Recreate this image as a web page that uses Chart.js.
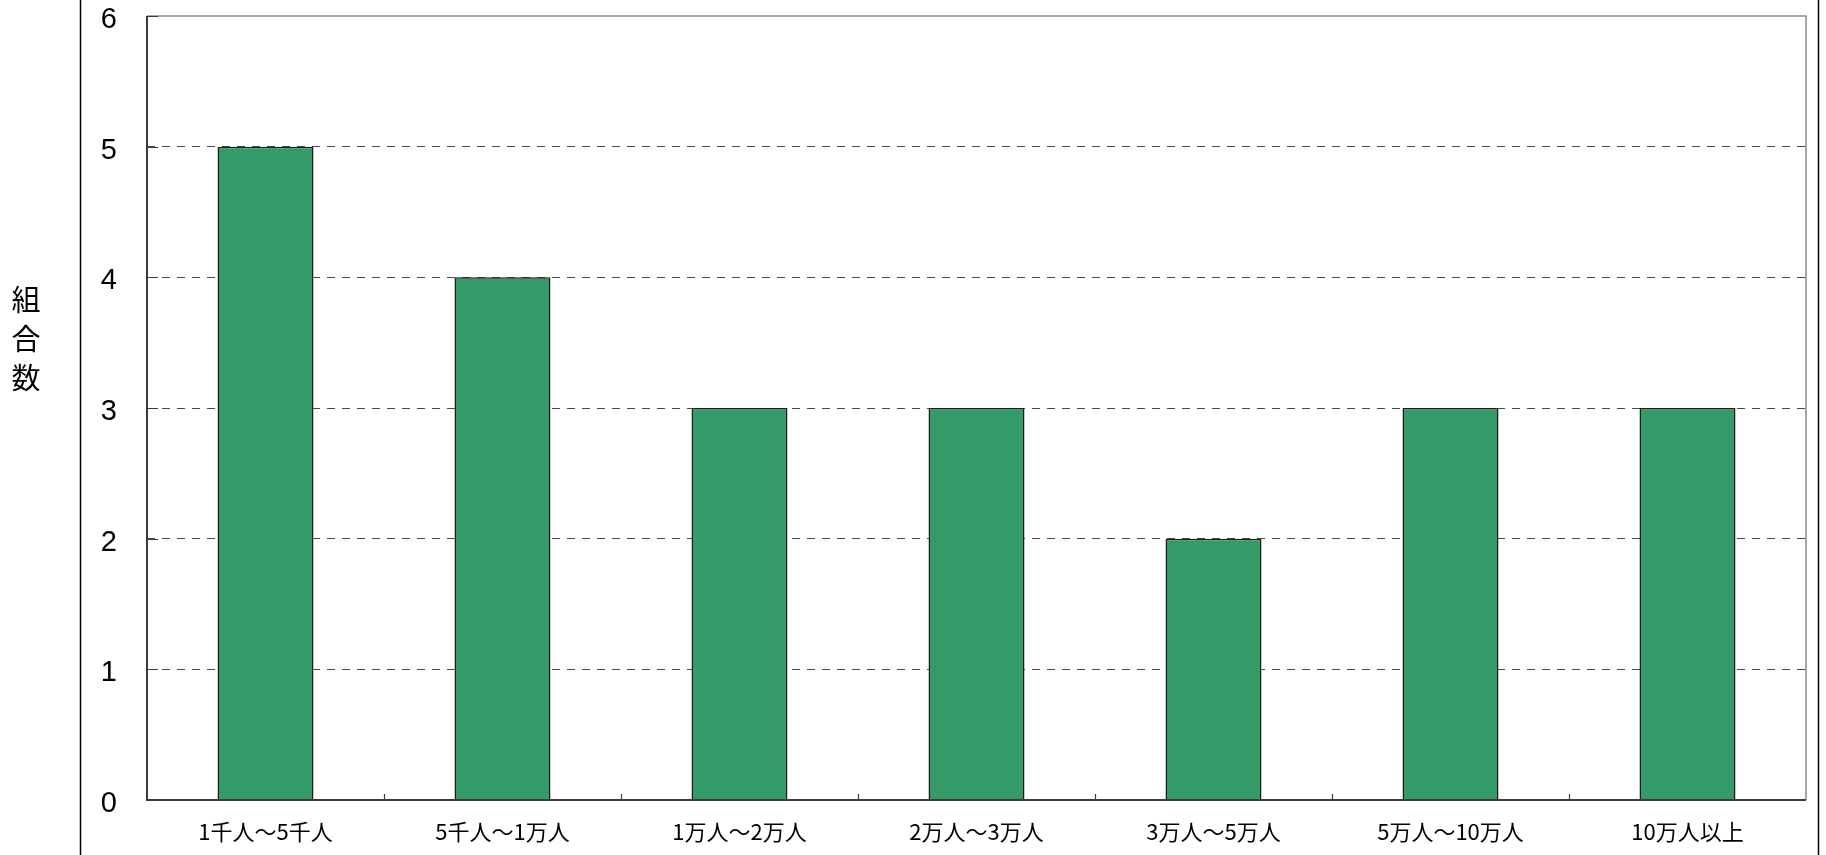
<!DOCTYPE html>
<html>
<head>
<meta charset="utf-8">
<script src="https://cdn.jsdelivr.net/npm/chart.js"></script>
<style>
html, body { margin: 0; padding: 0; background: #fff; }
#wrap { position: relative; width: 1826px; height: 855px; }
</style>
</head>
<body>
<div id="wrap"><canvas id="myChart" width="1826" height="855"></canvas></div>
<script>
// 規模別の組合数
var categories = ['1千人～5千人', '5千人～1万人', '1万人～2万人', '2万人～3万人', '3万人～5万人', '5万人～10万人', '10万人以上'];
var counts = [5, 4, 3, 3, 2, 3, 3];
var yMin = 0;
var yMax = 6;
var yTitle = ['組', '合', '数'];

var frame = {
  id: 'frame',
  beforeDraw: function(chart) {
    var ctx = chart.ctx;
    ctx.save();
    ctx.fillStyle = '#fff';
    ctx.fillRect(0, 0, chart.width, chart.height);
    // outer box sides
    ctx.strokeStyle = '#000';
    ctx.lineWidth = 1.5;
    ctx.beginPath();
    ctx.moveTo(80.5, 0); ctx.lineTo(80.5, chart.height);
    ctx.moveTo(1818.5, 0); ctx.lineTo(1818.5, chart.height);
    ctx.stroke();
    ctx.restore();
  },
  afterDatasetsDraw: function(chart) {
    var a = chart.chartArea, ctx = chart.ctx;
    var xs = chart.scales.x, ys = chart.scales.y;
    ctx.save();
    // plot frame top / right
    ctx.strokeStyle = '#8a8a8a';
    ctx.lineWidth = 1.5;
    ctx.beginPath();
    ctx.moveTo(a.left, a.top); ctx.lineTo(a.right, a.top); ctx.lineTo(a.right, a.bottom);
    ctx.stroke();
    // axes
    ctx.strokeStyle = '#3c3c3c';
    ctx.lineWidth = 2;
    ctx.beginPath();
    ctx.moveTo(a.left, a.top); ctx.lineTo(a.left, a.bottom); ctx.lineTo(a.right, a.bottom);
    ctx.stroke();
    // tick marks between categories
    ctx.lineWidth = 1.2;
    ctx.beginPath();
    for (var i = 1; i < categories.length; i++) {
      var px = Math.round((xs.getPixelForValue(i - 1) + xs.getPixelForValue(i)) / 2) + 0.5;
      ctx.moveTo(px, a.bottom); ctx.lineTo(px, a.bottom - 6);
    }
    // y tick marks
    for (var v = yMin; v <= yMax; v++) {
      var py = Math.round(ys.getPixelForValue(v)) + 0.5;
      ctx.moveTo(a.left, py); ctx.lineTo(a.left + 11, py);
    }
    ctx.stroke();
    // axis title, upright characters
    ctx.fillStyle = '#000';
    ctx.font = '29px "Noto Sans CJK JP"';
    ctx.textAlign = 'center';
    ctx.textBaseline = 'middle';
    yTitle.forEach(function(ch, k) {
      ctx.fillText(ch, 26, 300 + k * 39);
    });
    ctx.restore();
  }
};

var ctx = document.getElementById('myChart').getContext('2d');
var myChart = new Chart(ctx, {
  type: 'bar',
  data: {
    labels: categories,
    datasets: [{
      data: counts,
      backgroundColor: '#349a67',
      borderColor: '#1c1c1c',
      borderWidth: 1.5,
      categoryPercentage: 1,
      barPercentage: 0.405
    }]
  },
  options: {
    responsive: false,
    animation: false,
    devicePixelRatio: 1,
    layout: { padding: { top: 16, right: 20, left: 0, bottom: 0 } },
    plugins: { legend: { display: false }, tooltip: { enabled: false } },
    scales: {
      x: {
        grid: { display: false, drawTicks: false },
        border: { display: false },
        ticks: {
          color: '#000',
          padding: 18,
          maxRotation: 0,
          font: { family: '"Noto Sans CJK JP"', size: 22 }
        },
        afterFit: function(s) { s.height = 55; s.paddingLeft = 0; s.paddingRight = 0; }
      },
      y: {
        min: yMin,
        max: yMax,
        grid: {
          drawTicks: false,
          color: function(c) {
            return (c.tick.value === yMin || c.tick.value === yMax) ? 'rgba(0,0,0,0)' : '#4a4a4a';
          },
          lineWidth: 1
        },
        border: { display: false, dash: [8, 7] },
        ticks: {
          stepSize: 1,
          color: '#000',
          padding: 30,
          labelOffset: 4,
          font: { family: '"Liberation Sans", Arial', size: 29 }
        },
        afterFit: function(s) { s.width = 147; s.paddingTop = 0; s.paddingBottom = 0; }
      }
    }
  },
  plugins: [frame]
});
</script>
</body>
</html>
